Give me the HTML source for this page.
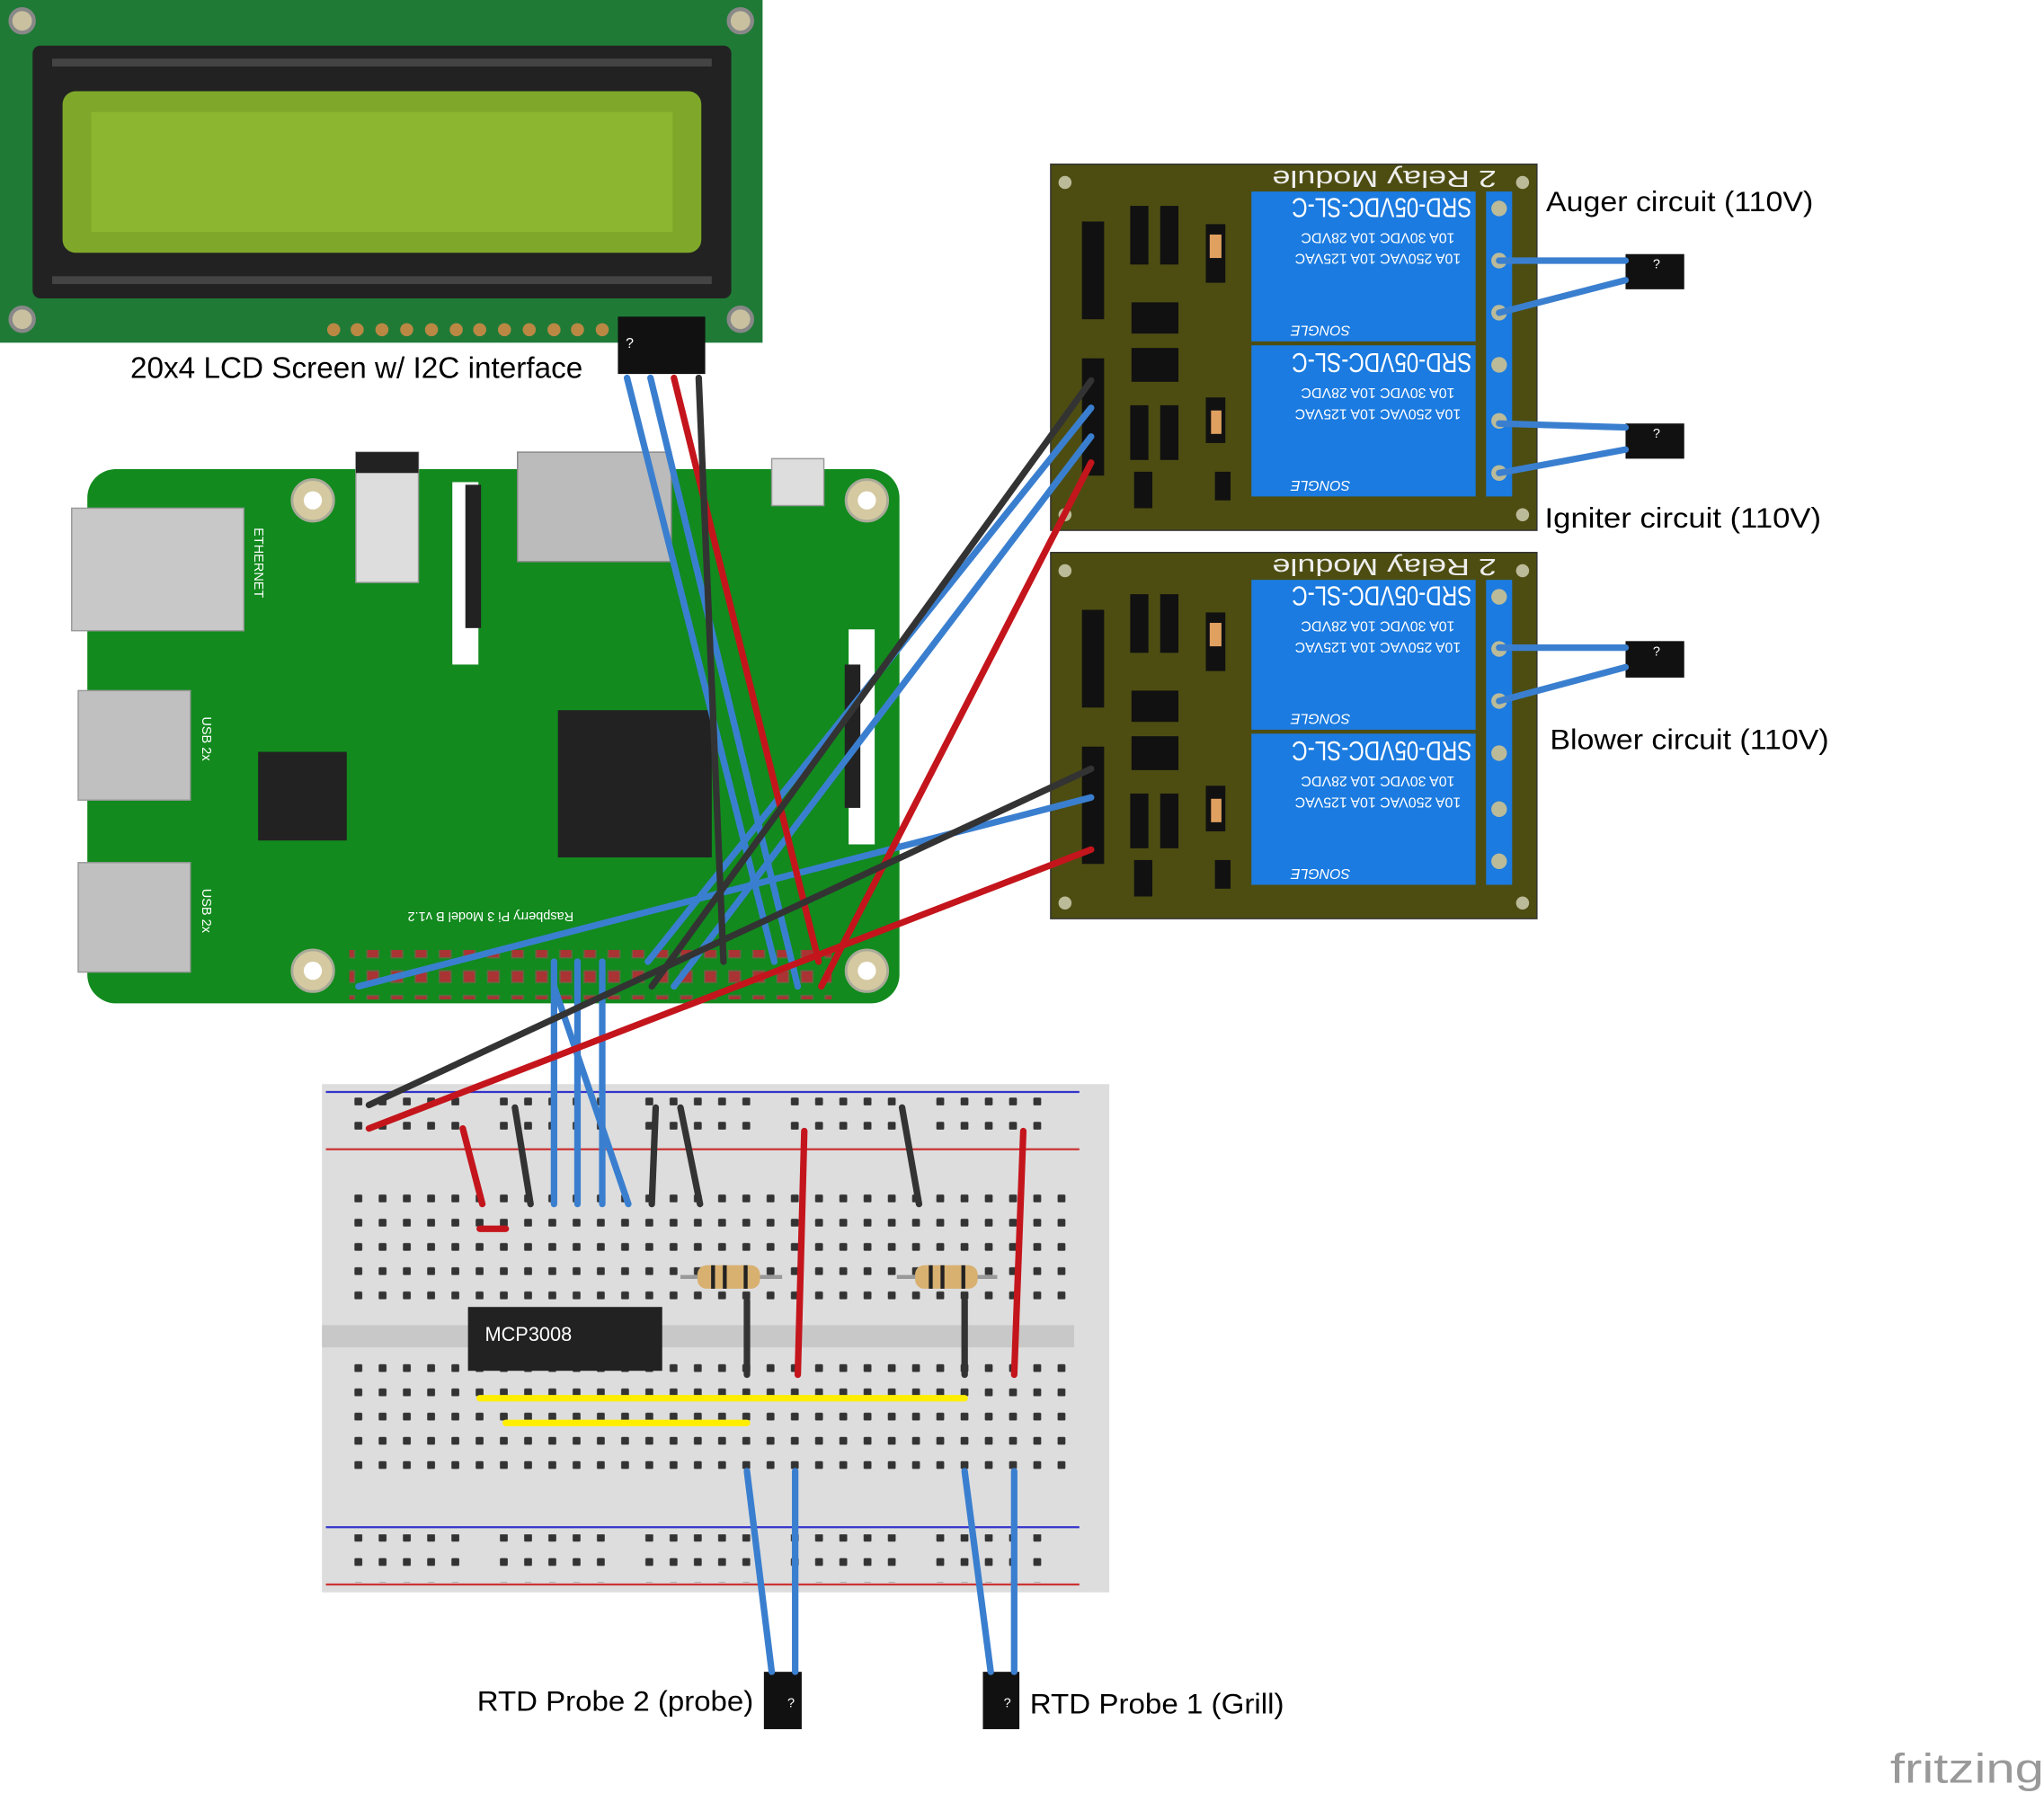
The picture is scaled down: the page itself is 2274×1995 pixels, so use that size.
<!DOCTYPE html>
<html><head><meta charset="utf-8"><style>
html,body{margin:0;padding:0;background:#fff;}
svg{display:block;}
text{font-family:"Liberation Sans","DejaVu Sans",sans-serif;}
</style></head><body>
<svg width="2274" height="1995" viewBox="0 0 1568 1376" preserveAspectRatio="none" xmlns="http://www.w3.org/2000/svg">
<defs>
<pattern id="hole" x="266.6" y="0" width="18.6" height="18.6" patternUnits="userSpaceOnUse">
<rect x="5.3" y="5.3" width="6" height="6" fill="#333" rx="1"/></pattern>
<pattern id="rail" x="266.6" y="0" width="111.6" height="18.6" patternUnits="userSpaceOnUse">
<rect x="5.3" y="5.3" width="6" height="6" fill="#333" rx="1"/><rect x="23.9" y="5.3" width="6" height="6" fill="#333" rx="1"/><rect x="42.5" y="5.3" width="6" height="6" fill="#333" rx="1"/><rect x="61.1" y="5.3" width="6" height="6" fill="#333" rx="1"/><rect x="79.7" y="5.3" width="6" height="6" fill="#333" rx="1"/></pattern>
<pattern id="hdr" x="0" y="0" width="18.5" height="19" patternUnits="userSpaceOnUse">
<rect x="4" y="4" width="9" height="9" fill="#a33" stroke="#664" stroke-width="1"/></pattern>
</defs>

<!-- LCD -->
<rect x="0" y="0" width="585" height="263" fill="#1f7a36"/>
<rect x="25" y="35" width="536" height="194" rx="6" fill="#222"/>
<rect x="40" y="45" width="506" height="6" fill="#444"/>
<rect x="40" y="212" width="506" height="6" fill="#444"/>
<rect x="48" y="70" width="490" height="124" rx="10" fill="#7fa82a"/>
<rect x="70" y="86" width="446" height="92" fill="#8cb530"/>
<g fill="#c9c0a0" stroke="#888" stroke-width="3">
<circle cx="17" cy="16" r="9"/><circle cx="568" cy="16" r="9"/><circle cx="17" cy="245" r="9"/><circle cx="568" cy="245" r="9"/></g>
<g fill="#b84" >
<circle cx="256" cy="253" r="5"/><circle cx="274" cy="253" r="5"/><circle cx="293" cy="253" r="5"/><circle cx="312" cy="253" r="5"/><circle cx="331" cy="253" r="5"/><circle cx="350" cy="253" r="5"/><circle cx="368" cy="253" r="5"/><circle cx="387" cy="253" r="5"/><circle cx="406" cy="253" r="5"/><circle cx="425" cy="253" r="5"/><circle cx="443" cy="253" r="5"/><circle cx="462" cy="253" r="5"/></g>
<rect x="474" y="243" width="67" height="44" fill="#111"/>
<text x="480" y="267" font-size="11" fill="#fff">?</text>
<text x="100" y="290" font-size="23" textLength="347" lengthAdjust="spacingAndGlyphs" fill="#000">20x4 LCD Screen w/ I2C interface</text>

<!-- Raspberry Pi -->
<rect x="67" y="360" width="623" height="410" rx="22" fill="#128a1e"/>
<rect x="55" y="390" width="132" height="94" fill="#c8c8c8" stroke="#999"/>
<text x="195" y="405" font-size="10" fill="#fff" transform="rotate(90 195 405)">ETHERNET</text>
<rect x="60" y="530" width="86" height="84" fill="#c0c0c0" stroke="#999"/>
<rect x="60" y="662" width="86" height="84" fill="#c0c0c0" stroke="#999"/>
<text x="155" y="550" font-size="10" fill="#fff" transform="rotate(90 155 550)">USB 2x</text>
<text x="155" y="682" font-size="10" fill="#fff" transform="rotate(90 155 682)">USB 2x</text>
<rect x="198" y="577" width="68" height="68" fill="#222"/>
<rect x="428" y="545" width="118" height="113" fill="#222"/>
<rect x="273" y="347" width="48" height="100" fill="#ddd" stroke="#999"/>
<rect x="273" y="347" width="48" height="16" fill="#222"/>
<rect x="347" y="370" width="20" height="140" fill="#fff"/>
<rect x="357" y="372" width="12" height="110" fill="#222"/>
<rect x="397" y="347" width="118" height="84" fill="#bbb" stroke="#888"/>
<rect x="592" y="352" width="40" height="36" fill="#ddd" stroke="#999"/>
<rect x="651" y="483" width="20" height="165" fill="#fff"/>
<rect x="648" y="510" width="12" height="110" fill="#222"/>
<g fill="#d4c9a0" stroke="#aa9" stroke-width="2"><circle cx="240" cy="384" r="16"/><circle cx="665" cy="384" r="16"/><circle cx="240" cy="745" r="16"/><circle cx="665" cy="745" r="16"/></g>
<g><circle cx="240" cy="384" r="7" fill="#fff"/><circle cx="665" cy="384" r="7" fill="#fff"/><circle cx="240" cy="745" r="7" fill="#fff"/><circle cx="665" cy="745" r="7" fill="#fff"/></g>
<rect x="268" y="729" width="370" height="38" fill="url(#hdr)"/>
<text x="420" y="700" font-size="10" fill="#fff" transform="rotate(180 430 700)">Raspberry Pi 3 Model B v1.2</text>

<!-- Relay modules -->
<g id="relay">
<rect x="806" y="126" width="373" height="281" fill="#4d4d12" stroke="#333"/>
<rect x="960" y="147" width="172" height="115" fill="#1b7be0"/>
<rect x="960" y="265" width="172" height="116" fill="#1b7be0"/>
<rect x="1140" y="147" width="20" height="234" fill="#1b7be0"/>
<text x="1060" y="168" font-size="21" text-anchor="middle" textLength="138" lengthAdjust="spacingAndGlyphs" fill="#fff" transform="rotate(180 1060 160)">SRD-05VDC-SL-C</text>
<text x="1060" y="287" font-size="21" text-anchor="middle" textLength="138" lengthAdjust="spacingAndGlyphs" fill="#fff" transform="rotate(180 1060 279)">SRD-05VDC-SL-C</text>
<g font-size="11" fill="#fff" text-anchor="middle">
<text x="1057" y="187" transform="rotate(180 1057 183)">10A 30VDC 10A 28VDC</text>
<text x="1057" y="203" transform="rotate(180 1057 199)">10A 250VAC 10A 125VAC</text>
<text x="1057" y="306" transform="rotate(180 1057 302)">10A 30VDC 10A 28VDC</text>
<text x="1057" y="322" transform="rotate(180 1057 318)">10A 250VAC 10A 125VAC</text>
<text x="1013" y="258" font-style="italic" transform="rotate(180 1013 254)">SONGLE</text>
<text x="1013" y="377" font-style="italic" transform="rotate(180 1013 373)">SONGLE</text>
</g>
<text x="1062" y="143" font-size="18" text-anchor="middle" textLength="172" lengthAdjust="spacingAndGlyphs" fill="#eee" transform="rotate(180 1062 137)">2 Relay Module</text>
<rect x="830" y="170" width="17" height="75" fill="#111"/>
<rect x="830" y="275" width="17" height="90" fill="#111"/>
<rect x="867" y="158" width="14" height="45" fill="#111"/><rect x="890" y="158" width="14" height="45" fill="#111"/>
<rect x="867" y="311" width="14" height="42" fill="#111"/><rect x="890" y="311" width="14" height="42" fill="#111"/>
<rect x="868" y="232" width="36" height="24" fill="#111"/><rect x="868" y="267" width="36" height="26" fill="#111"/>
<rect x="925" y="172" width="15" height="45" fill="#111"/><rect x="925" y="305" width="15" height="35" fill="#111"/>
<rect x="870" y="362" width="14" height="28" fill="#111"/><rect x="932" y="362" width="12" height="22" fill="#111"/>
<rect x="928" y="180" width="9" height="18" fill="#e0a060"/><rect x="929" y="315" width="8" height="18" fill="#e0a060"/>
<circle cx="817" cy="140" r="5" fill="#bb9"/><circle cx="817" cy="395" r="5" fill="#bb9"/><circle cx="1168" cy="395" r="5" fill="#bb9"/><circle cx="1168" cy="140" r="5" fill="#bb9"/>
<g fill="#bb9"><circle cx="1150" cy="160" r="6"/><circle cx="1150" cy="200" r="6"/><circle cx="1150" cy="240" r="6"/><circle cx="1150" cy="280" r="6"/><circle cx="1150" cy="323" r="6"/><circle cx="1150" cy="363" r="6"/></g>
</g>
<use href="#relay" y="298"/>

<!-- sensors -->
<g fill="#111"><rect x="1247" y="195" width="45" height="27"/><rect x="1247" y="325" width="45" height="27"/><rect x="1247" y="492" width="45" height="28"/>
<rect x="586" y="1283" width="29" height="44"/><rect x="754" y="1283" width="28" height="44"/></g>
<g fill="#fff" font-size="10"><text x="1268" y="206">?</text><text x="1268" y="336">?</text><text x="1268" y="503">?</text><text x="604" y="1310">?</text><text x="770" y="1310">?</text></g>
<text x="1186" y="162" font-size="22" textLength="205" lengthAdjust="spacingAndGlyphs">Auger circuit (110V)</text>
<text x="1185" y="405" font-size="22" textLength="212" lengthAdjust="spacingAndGlyphs">Igniter circuit (110V)</text>
<text x="1189" y="575" font-size="22" textLength="214" lengthAdjust="spacingAndGlyphs">Blower circuit (110V)</text>

<!-- Breadboard -->
<rect x="247" y="832" width="604" height="390" fill="#ddd"/>
<rect x="247" y="1017" width="577" height="17" fill="#c8c8c8"/>
<line x1="250" y1="838" x2="828" y2="838" stroke="#33c" stroke-width="1.5"/>
<line x1="250" y1="882" x2="828" y2="882" stroke="#c33" stroke-width="1.5"/>
<line x1="250" y1="1172" x2="828" y2="1172" stroke="#33c" stroke-width="1.5"/>
<line x1="250" y1="1216" x2="828" y2="1216" stroke="#c33" stroke-width="1.5"/>
<rect x="266.6" y="915.5" width="558" height="93" fill="url(#hole)"/>
<rect x="266.6" y="1046.5" width="558" height="93" fill="url(#hole)"/>
<rect x="266.6" y="841.5" width="558" height="37" fill="url(#rail)"/>
<rect x="266.6" y="1177.5" width="558" height="37" fill="url(#rail)"/>
<rect x="359" y="1003" width="149" height="49" fill="#222"/>
<text x="372" y="1029" font-size="15" fill="#fff" font-family="Liberation Mono">MCP3008</text>
<g stroke="#999" stroke-width="3"><line x1="522" y1="980" x2="600" y2="980"/><line x1="688" y1="980" x2="765" y2="980"/></g>
<rect x="535" y="971" width="48" height="18" rx="7" fill="#d8b070"/>
<rect x="702" y="971" width="48" height="18" rx="7" fill="#d8b070"/>
<g stroke="#222" stroke-width="3"><line x1="547" y1="971" x2="547" y2="989"/><line x1="556" y1="971" x2="556" y2="989"/><line x1="572" y1="971" x2="572" y2="989"/><line x1="714" y1="971" x2="714" y2="989"/><line x1="723" y1="971" x2="723" y2="989"/><line x1="739" y1="971" x2="739" y2="989"/></g>

<!-- wires -->
<g fill="none" stroke-width="5" stroke-linecap="round">
<g stroke="#ffee00"><line x1="368" y1="1073" x2="740" y2="1073"/><line x1="388" y1="1092" x2="573" y2="1092"/></g>
<g stroke="#3a7fcf">
<line x1="481" y1="290" x2="594" y2="738"/><line x1="499" y1="290" x2="612" y2="757"/>
<line x1="837" y1="313" x2="497" y2="738"/><line x1="837" y1="335" x2="517" y2="757"/>
<line x1="837" y1="612" x2="275" y2="757"/>
<line x1="425" y1="738" x2="425" y2="924"/><line x1="443" y1="738" x2="443" y2="924"/><line x1="462" y1="738" x2="462" y2="924"/><line x1="425" y1="757" x2="482" y2="924"/>
<line x1="1150" y1="200" x2="1247" y2="200"/><line x1="1150" y1="240" x2="1247" y2="215"/>
<line x1="1150" y1="325" x2="1247" y2="328"/><line x1="1150" y1="363" x2="1247" y2="345"/>
<line x1="1150" y1="497" x2="1247" y2="497"/><line x1="1150" y1="538" x2="1247" y2="512"/>
<line x1="573" y1="1129" x2="592" y2="1283"/><line x1="610" y1="1129" x2="610" y2="1283"/>
<line x1="740" y1="1129" x2="760" y2="1283"/><line x1="778" y1="1129" x2="778" y2="1283"/>
</g>
<g stroke="#c4151c">
<line x1="517" y1="290" x2="628" y2="738"/>
<line x1="837" y1="355" x2="630" y2="757"/>
<line x1="837" y1="652" x2="283" y2="866"/>
<line x1="355" y1="866" x2="370" y2="924"/>
<line x1="617" y1="868" x2="612" y2="1055"/><line x1="785" y1="868" x2="778" y2="1055"/>
<line x1="368" y1="943" x2="388" y2="943"/>
</g>
<g stroke="#333">
<line x1="536" y1="290" x2="555" y2="738"/>
<line x1="837" y1="292" x2="500" y2="757"/>
<line x1="837" y1="590" x2="283" y2="848"/>
<line x1="395" y1="850" x2="407" y2="924"/><line x1="503" y1="850" x2="500" y2="924"/><line x1="522" y1="850" x2="537" y2="924"/><line x1="692" y1="850" x2="705" y2="924"/>
<line x1="573" y1="998" x2="573" y2="1055"/><line x1="740" y1="998" x2="740" y2="1055"/>
</g>
</g>

<text x="366" y="1313" font-size="22" textLength="212" lengthAdjust="spacingAndGlyphs">RTD Probe 2 (probe)</text>
<text x="790" y="1315" font-size="22" textLength="195" lengthAdjust="spacingAndGlyphs">RTD Probe 1 (Grill)</text>
<text x="1450" y="1368" font-size="32" textLength="118" lengthAdjust="spacingAndGlyphs" fill="#999">fritzing</text>
</svg>
</body></html>
